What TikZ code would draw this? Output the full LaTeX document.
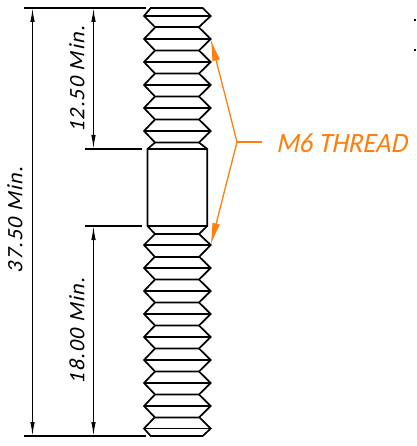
\documentclass[tikz,border=0pt]{standalone}
\usepackage{fontspec}
\usepackage{graphicx}
\setmainfont{Carlito}
\newfontfamily\dimfont[FakeSlant=0.22,LetterSpace=6]{Carlito}
\newfontfamily\leadfont[FakeSlant=0.22,LetterSpace=0]{Carlito}
\usetikzlibrary{arrows.meta}
\definecolor{lead}{RGB}{255,127,14}
\tikzset{
  part/.style={black,line width=1.7pt,line join=miter},
  ext/.style={black,line width=1.4pt},
  dimline/.style={black,line width=1.2pt,{Latex[length=14pt,width=4.5pt]}-{Latex[length=14pt,width=4.5pt]}},
  leadline/.style={lead,line width=1.3pt},
  leadarrow/.style={leadline,-{Latex[length=22pt,width=8pt]}},
  dimtext/.style={black,rotate=90,inner sep=0pt,font=\dimfont\fontsize{22}{22}\selectfont},
  leadtext/.style={lead,inner sep=0pt,font=\leadfont\fontsize{28}{28}\selectfont},
  speck/.style={black,inner sep=0pt,minimum size=2pt,fill},
}
\newcommand{\crest}[1]{\draw[part] (155,#1-11.5) -- (144,#1) -- (155,#1+11.5) (199,#1-11.5) -- (210.7,#1) -- (199,#1+11.5) (144,#1) -- (210.7,#1) (155,#1+11.5) -- (199,#1+11.5);}
\begin{document}
\begin{tikzpicture}[x=1pt,y=-1pt]
\useasboundingbox (0,0) rectangle (416,446);
% upper thread
\draw[part] (155,27) -- (144,16) -- (150.7,8) -- (202.7,8) -- (210.7,16) -- (199,27) -- cycle;
\draw[part] (144,16) -- (210.7,16);
\foreach \y in {39,62,85,108,131} {\crest{\y}}
% body
\draw[part] (155,142.5) -- (147.5,149) -- (147.5,226) -- (155,234) -- (199,234) -- (207.3,226) -- (207.3,149) -- (199,142.5);
\draw[part] (147.5,149) -- (207.3,149) (147.5,226) -- (207.3,226);
% lower thread
\draw[part] (155,234) -- (144,245) -- (155,257) (199,234) -- (210.7,245) -- (199,257) (144,245) -- (210.7,245) (155,257) -- (199,257);
\foreach \y in {268,291,314,337,360,383,406} {\crest{\y}}
\draw[part] (155,417) -- (144,428.5) -- (150.7,436) -- (202.7,436) -- (210.7,428.5) -- (199,417);
\draw[part] (144,428.5) -- (210.7,428.5);
% extension lines
\coordinate (et1) at (24,8); \coordinate (et2) at (146,8);
\coordinate (em1) at (85,149); \coordinate (em2) at (142,149);
\coordinate (en1) at (85,226); \coordinate (en2) at (142,226);
\coordinate (eb1) at (24,436); \coordinate (eb2) at (146,436);
\draw[ext] (et1) -- (et2) (em1) -- (em2) (en1) -- (en2) (eb1) -- (eb2);
% dimensions
\coordinate (a1) at (32.5,8); \coordinate (a2) at (32.5,436);
\coordinate (b1) at (93.5,8); \coordinate (b2) at (93.5,149);
\coordinate (c1) at (93.5,226); \coordinate (c2) at (93.5,436);
\draw[dimline] (a1) -- (a2);
\draw[dimline] (b1) -- (b2);
\draw[dimline] (c1) -- (c2);
\node[dimtext] (t1) at (77,79.5) {12.50 Min.};
\node[dimtext] (t2) at (77,331) {18.00 Min.};
\node[dimtext] (t3) at (15,220) {37.50 Min.};
% leader
\coordinate (j) at (237,142); \coordinate (k) at (262,142);
\coordinate (p1) at (210.7,39); \coordinate (p2) at (210.7,245);
\draw[leadline] (j) -- (k);
\draw[leadarrow] (j) -- (p1);
\draw[leadarrow] (j) -- (p2);
\node[leadtext,anchor=west] (t4) at (276,143.5) {\scalebox{0.95}[1]{M6 THREAD}};
% clipped marks at the right edge
\node[speck] (s1) at (415,20) {};
\node[speck] (s2) at (415,50) {};
\end{tikzpicture}
\end{document}
